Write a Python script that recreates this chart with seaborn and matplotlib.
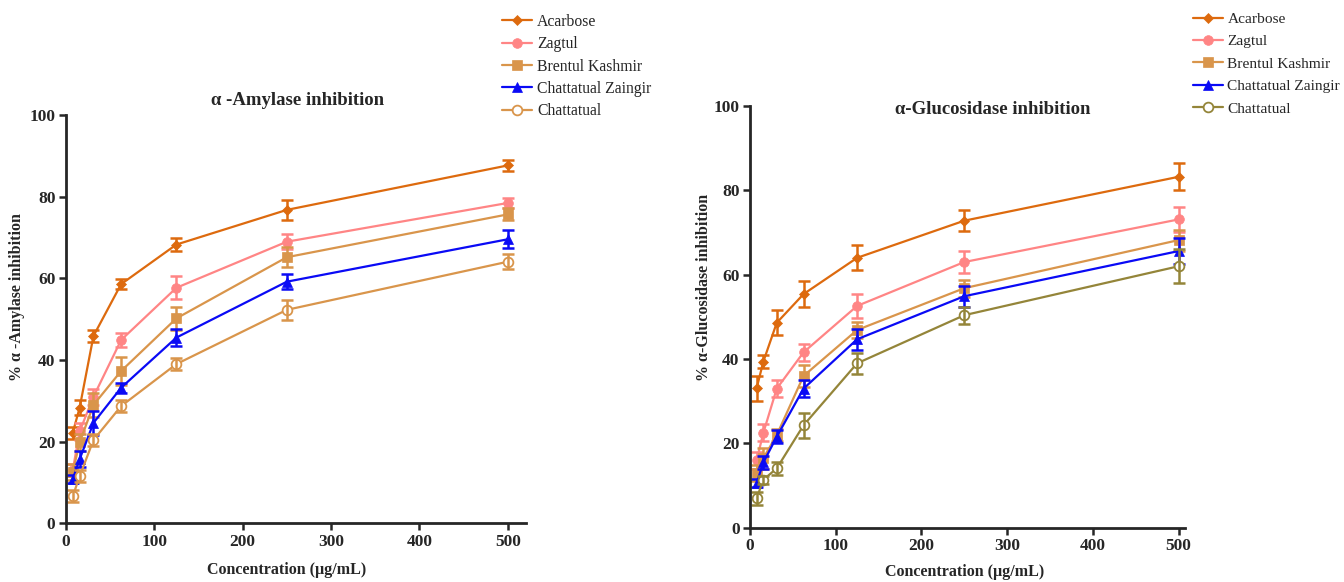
# ==========================
# alpha-Amylase / alpha-Glucosidase inhibition curves
# ==========================

import numpy as np
import pandas as pd
import matplotlib
matplotlib.use("Agg")
import matplotlib.pyplot as plt
import seaborn as sns

# ==========================
# Data
# ==========================

conc = [7.8, 15.6, 31.25, 62.5, 125, 250, 500]
samples = ["Acarbose", "Zagtul", "Brentul Kashmir", "Chattatual Zaingir", "Chattatual"]

# alpha-Amylase (% inhibition, mean and SD)
amy_acarbose = [22.2, 28.3, 45.9, 58.6, 68.3, 76.8, 87.7]
amy_zagtul = [13.0, 22.5, 31.0, 44.9, 57.7, 69.0, 78.5]
amy_brentul = [12.5, 19.8, 29.0, 37.3, 50.2, 65.2, 75.7]
amy_zaingir = [10.8, 15.7, 24.6, 33.2, 45.5, 59.2, 69.6]
amy_chattatual = [6.6, 11.5, 20.4, 28.7, 39.0, 52.3, 64.1]

amy_acarbose_sd = [1.5, 1.8, 1.5, 1.3, 1.5, 2.5, 1.3]
amy_zagtul_sd = [1.5, 2.0, 2.0, 1.8, 2.8, 1.8, 1.2]
amy_brentul_sd = [2.0, 2.0, 3.0, 3.5, 2.8, 2.5, 1.5]
amy_zaingir_sd = [1.0, 2.0, 3.0, 1.2, 2.0, 1.8, 2.2]
amy_chattatual_sd = [1.5, 1.5, 1.5, 1.5, 1.5, 2.5, 1.8]

# alpha-Glucosidase (% inhibition, mean and SD)
glu_acarbose = [33.1, 39.4, 48.6, 55.4, 64.0, 72.8, 83.2]
glu_zagtul = [16.0, 22.5, 33.0, 41.6, 52.6, 63.0, 73.1]
glu_brentul = [13.0, 16.5, 22.0, 36.0, 46.9, 56.8, 68.2]
glu_zaingir = [10.6, 15.5, 21.6, 33.0, 44.7, 54.9, 65.6]
glu_chattatual = [7.0, 11.4, 14.1, 24.3, 39.0, 50.4, 62.0]

glu_acarbose_sd = [3.0, 1.5, 3.0, 3.0, 3.0, 2.5, 3.2]
glu_zagtul_sd = [2.0, 2.0, 2.0, 2.0, 2.8, 2.5, 3.0]
glu_brentul_sd = [2.0, 2.5, 1.5, 2.5, 2.0, 2.0, 2.5]
glu_zaingir_sd = [1.0, 1.5, 1.5, 2.0, 2.5, 2.5, 3.0]
glu_chattatual_sd = [1.5, 1.0, 1.5, 3.0, 2.5, 2.0, 4.0]


def make_df(means, sds):
    rows = []
    for name, m, s in zip(samples, means, sds):
        for c, v, e in zip(conc, m, s):
            rows.append({"conc": c, "value": v, "sd": e, "sample": name})
    return pd.DataFrame(rows)


amy_df = make_df(
    [amy_acarbose, amy_zagtul, amy_brentul, amy_zaingir, amy_chattatual],
    [amy_acarbose_sd, amy_zagtul_sd, amy_brentul_sd, amy_zaingir_sd, amy_chattatual_sd],
)
glu_df = make_df(
    [glu_acarbose, glu_zagtul, glu_brentul, glu_zaingir, glu_chattatual],
    [glu_acarbose_sd, glu_zagtul_sd, glu_brentul_sd, glu_zaingir_sd, glu_chattatual_sd],
)

# ==========================
# Styling
# ==========================

sns.set_style("ticks")
plt.rcParams["font.family"] = ["Liberation Serif", "DejaVu Serif"]

amy_colors = {
    "Acarbose": "#DD6A0E",
    "Zagtul": "#FF8585",
    "Brentul Kashmir": "#D9954B",
    "Chattatual Zaingir": "#0A0AF5",
    "Chattatual": "#D9954B",
}
glu_colors = dict(amy_colors)
glu_colors["Chattatual"] = "#948539"

markers = {
    "Acarbose": "D",
    "Zagtul": "o",
    "Brentul Kashmir": "s",
    "Chattatual Zaingir": "^",
    "Chattatual": "o",
}
msizes = {
    "Acarbose": 5,
    "Zagtul": 7,
    "Brentul Kashmir": 7,
    "Chattatual Zaingir": 7,
    "Chattatual": 7,
}

fig = plt.figure(figsize=(13.44, 5.82), dpi=100)
ax1 = fig.add_axes([0.049, 0.101, 0.342, 0.701])
ax2 = fig.add_axes([0.558, 0.093, 0.324, 0.725])


def draw(ax, df, colors, xmax):
    for name in samples:
        sub = df[df["sample"] == name]
        col = colors[name]
        open_marker = name == "Chattatual"
        sns.lineplot(
            data=sub, x="conc", y="value", ax=ax, color=col, lw=1.6,
            marker=markers[name], markersize=msizes[name],
            markerfacecolor="white" if open_marker else col,
            markeredgecolor=col, markeredgewidth=1.3 if open_marker else 0.5,
            errorbar=None, label=name,
        )
        ax.errorbar(sub["conc"], sub["value"], yerr=sub["sd"], fmt="none",
                    ecolor=col, elinewidth=1.8, capsize=4, capthick=1.8)
    ax.set_xlim(0, xmax)
    ax.set_ylim(0, 100)
    ax.set_xticks([0, 100, 200, 300, 400, 500])
    ax.set_yticks([0, 20, 40, 60, 80, 100])
    for lab in ax.get_xticklabels() + ax.get_yticklabels():
        lab.set_fontweight("bold")
    ax.tick_params(labelsize=12.5, width=1.8, length=5, pad=2.5, direction="out")
    sns.despine(ax=ax)
    for sp in ["left", "bottom"]:
        ax.spines[sp].set_linewidth(2)
    ax.set_xlabel("Concentration (µg/mL)", fontsize=11.5, fontweight="bold")
    ax.get_legend().remove()


draw(ax1, amy_df, amy_colors, 520)
draw(ax2, glu_df, glu_colors, 508)

ax1.set_ylabel("% α -Amylase inhibition", fontsize=11.5, fontweight="bold")
ax2.set_ylabel("% α-Glucosidase inhibition", fontsize=11.5, fontweight="bold")
ax1.yaxis.set_label_coords(-0.088, 0.554)
ax2.yaxis.set_label_coords(-0.087, 0.571)
ax1.xaxis.set_label_coords(0.48, -0.094)
ax2.xaxis.set_label_coords(0.492, -0.085)

fig.text(0.2217, 0.828, "α -Amylase inhibition", fontsize=13.5, fontweight="bold",
         ha="center", va="center")
fig.text(0.739, 0.811, "α-Glucosidase inhibition", fontsize=13.5, fontweight="bold",
         ha="center", va="center")

# ==========================
# Legends
# ==========================

h1, l1 = ax1.get_legend_handles_labels()
h2, l2 = ax2.get_legend_handles_labels()
fig.legend(h1[:5], l1[:5], loc="upper left", bbox_to_anchor=(0.3735, 0.976),
           frameon=False, fontsize=11.3, handlelength=1.9, labelspacing=0.4,
           handletextpad=0.35, borderaxespad=0, borderpad=0)
fig.legend(h2[:5], l2[:5], loc="upper left", bbox_to_anchor=(0.888, 0.979),
           frameon=False, fontsize=11.1, handlelength=1.9, labelspacing=0.56,
           handletextpad=0.3, borderaxespad=0, borderpad=0)

plt.savefig("out.png", dpi=100)
